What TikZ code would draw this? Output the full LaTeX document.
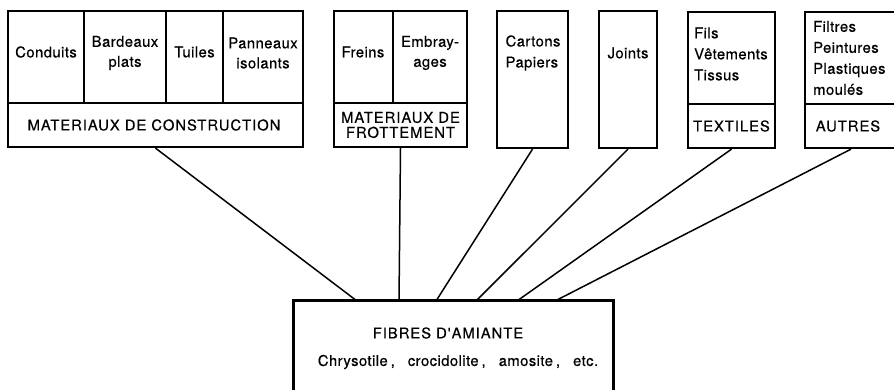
\documentclass[tikz,border=0pt]{standalone}
\usepackage{fontspec}
\setmainfont{TeX Gyre Heros}[LetterSpace=3.0, FakeBold=0.5]
\newfontfamily\capsfont{TeX Gyre Heros}[LetterSpace=6.5, FakeBold=0.5]
\begin{document}
\begin{tikzpicture}[x=1pt,y=-1pt,
  box/.style={draw, line width=2.3pt, inner sep=0pt, rectangle},
  div/.style={line width=1.9pt},
  link/.style={line width=1.5pt},
  lbl/.style={font=\fontsize{14.8}{20}\selectfont, align=center, inner sep=0pt},
  lbll/.style={font=\fontsize{14.8}{21}\selectfont, align=left, inner sep=0pt},
  caplbl/.style={font=\capsfont\fontsize{14.8}{15}\selectfont, align=center, inner sep=0pt}]
\useasboundingbox (0,0) rectangle (894,389);

% Matériaux de construction
\node[box, minimum width=295pt, minimum height=136pt] (mc) at (155.5,79) {};
\draw[div] (8,103) -- (303,103);
\draw[div] (84,11) -- (84,103);
\draw[div] (166,11) -- (166,103);
\draw[div] (223,11) -- (223,103);
\node[lbl] (t1) at (46,52) {Conduits};
\node[lbl] (t2) at (125,53) {Bardeaux\\plats};
\node[lbl] (t3) at (194.5,52) {Tuiles};
\node[lbl] (t4) at (263,53) {Panneaux\\isolants};
\node[caplbl] (mcl) at (154,125) {MATERIAUX DE CONSTRUCTION};

% Matériaux de frottement
\node[box, minimum width=133pt, minimum height=136pt] (fr) at (400.5,79) {};
\draw[div] (334,103) -- (467,103);
\draw[div] (393,11) -- (393,103);
\node[lbl] (t5) at (363,52) {Freins};
\node[lbl] (t6) at (430,53) {Embray-\\ages};
\node[caplbl] (frl) at (400.5,125) {MATERIAUX DE\\FROTTEMENT};

% Cartons / Joints
\node[box, minimum width=71pt, minimum height=137pt] (cp) at (532.5,79.5) {};
\node[lbll, align=left] (t7) at (533,53) {Cartons\\Papiers};
\node[box, minimum width=58pt, minimum height=137pt] (jo) at (628,79.5) {};
\node[lbl] (t8) at (628,53) {Joints};

% Textiles
\node[box, minimum width=87pt, minimum height=136pt] (tx) at (731.5,80) {};
\draw[div] (688,104) -- (775,104);
\node[lbll, anchor=west] (t9) at (694,54) {Fils\\Vêtements\\Tissus};
\node[caplbl] (txl) at (731.5,126) {TEXTILES};

% Autres
\node[box, minimum width=92pt, minimum height=136pt] (au) at (851,80) {};
\draw[div] (805,104) -- (897,104);
\node[lbll, anchor=west] (t10) at (813,58) {Filtres\\Peintures\\Plastiques\\moulés};
\node[caplbl] (aul) at (848,126) {AUTRES};

% Fibres d'amiante (cut by the lower edge of the picture)
\node[inner sep=0pt, minimum width=319pt, minimum height=88pt] (fib) at (453.5,345) {};
\draw[line width=2.8pt] ([yshift=-12pt]fib.south west) -- (fib.north west) -- (fib.north east) -- ([yshift=-12pt]fib.south east);
\node[caplbl] (f1) at (448,333) {FIBRES D'AMIANTE};
\node[lbl] (f2) at (458,362) {Chrysotile\hspace{3pt},\hspace{13pt}crocidolite\hspace{3pt},\hspace{13pt}amosite\hspace{3pt},\hspace{13pt}etc.};

% connection points
\coordinate (e1) at (357,301);
\coordinate (e2) at (399,301);
\coordinate (e3) at (436,301);
\coordinate (e4) at (476,301);
\coordinate (e5) at (517,301);
\coordinate (e6) at (555,301);

\draw[link] (mc.south) -- (e1);
\draw[link] (fr.south) -- (e2);
\draw[link] (cp.south) -- (e3);
\draw[link] (jo.south) -- (e4);
\draw[link] (tx.south) -- (e5);
\draw[link] (au.south) -- (e6);
\end{tikzpicture}
\end{document}
